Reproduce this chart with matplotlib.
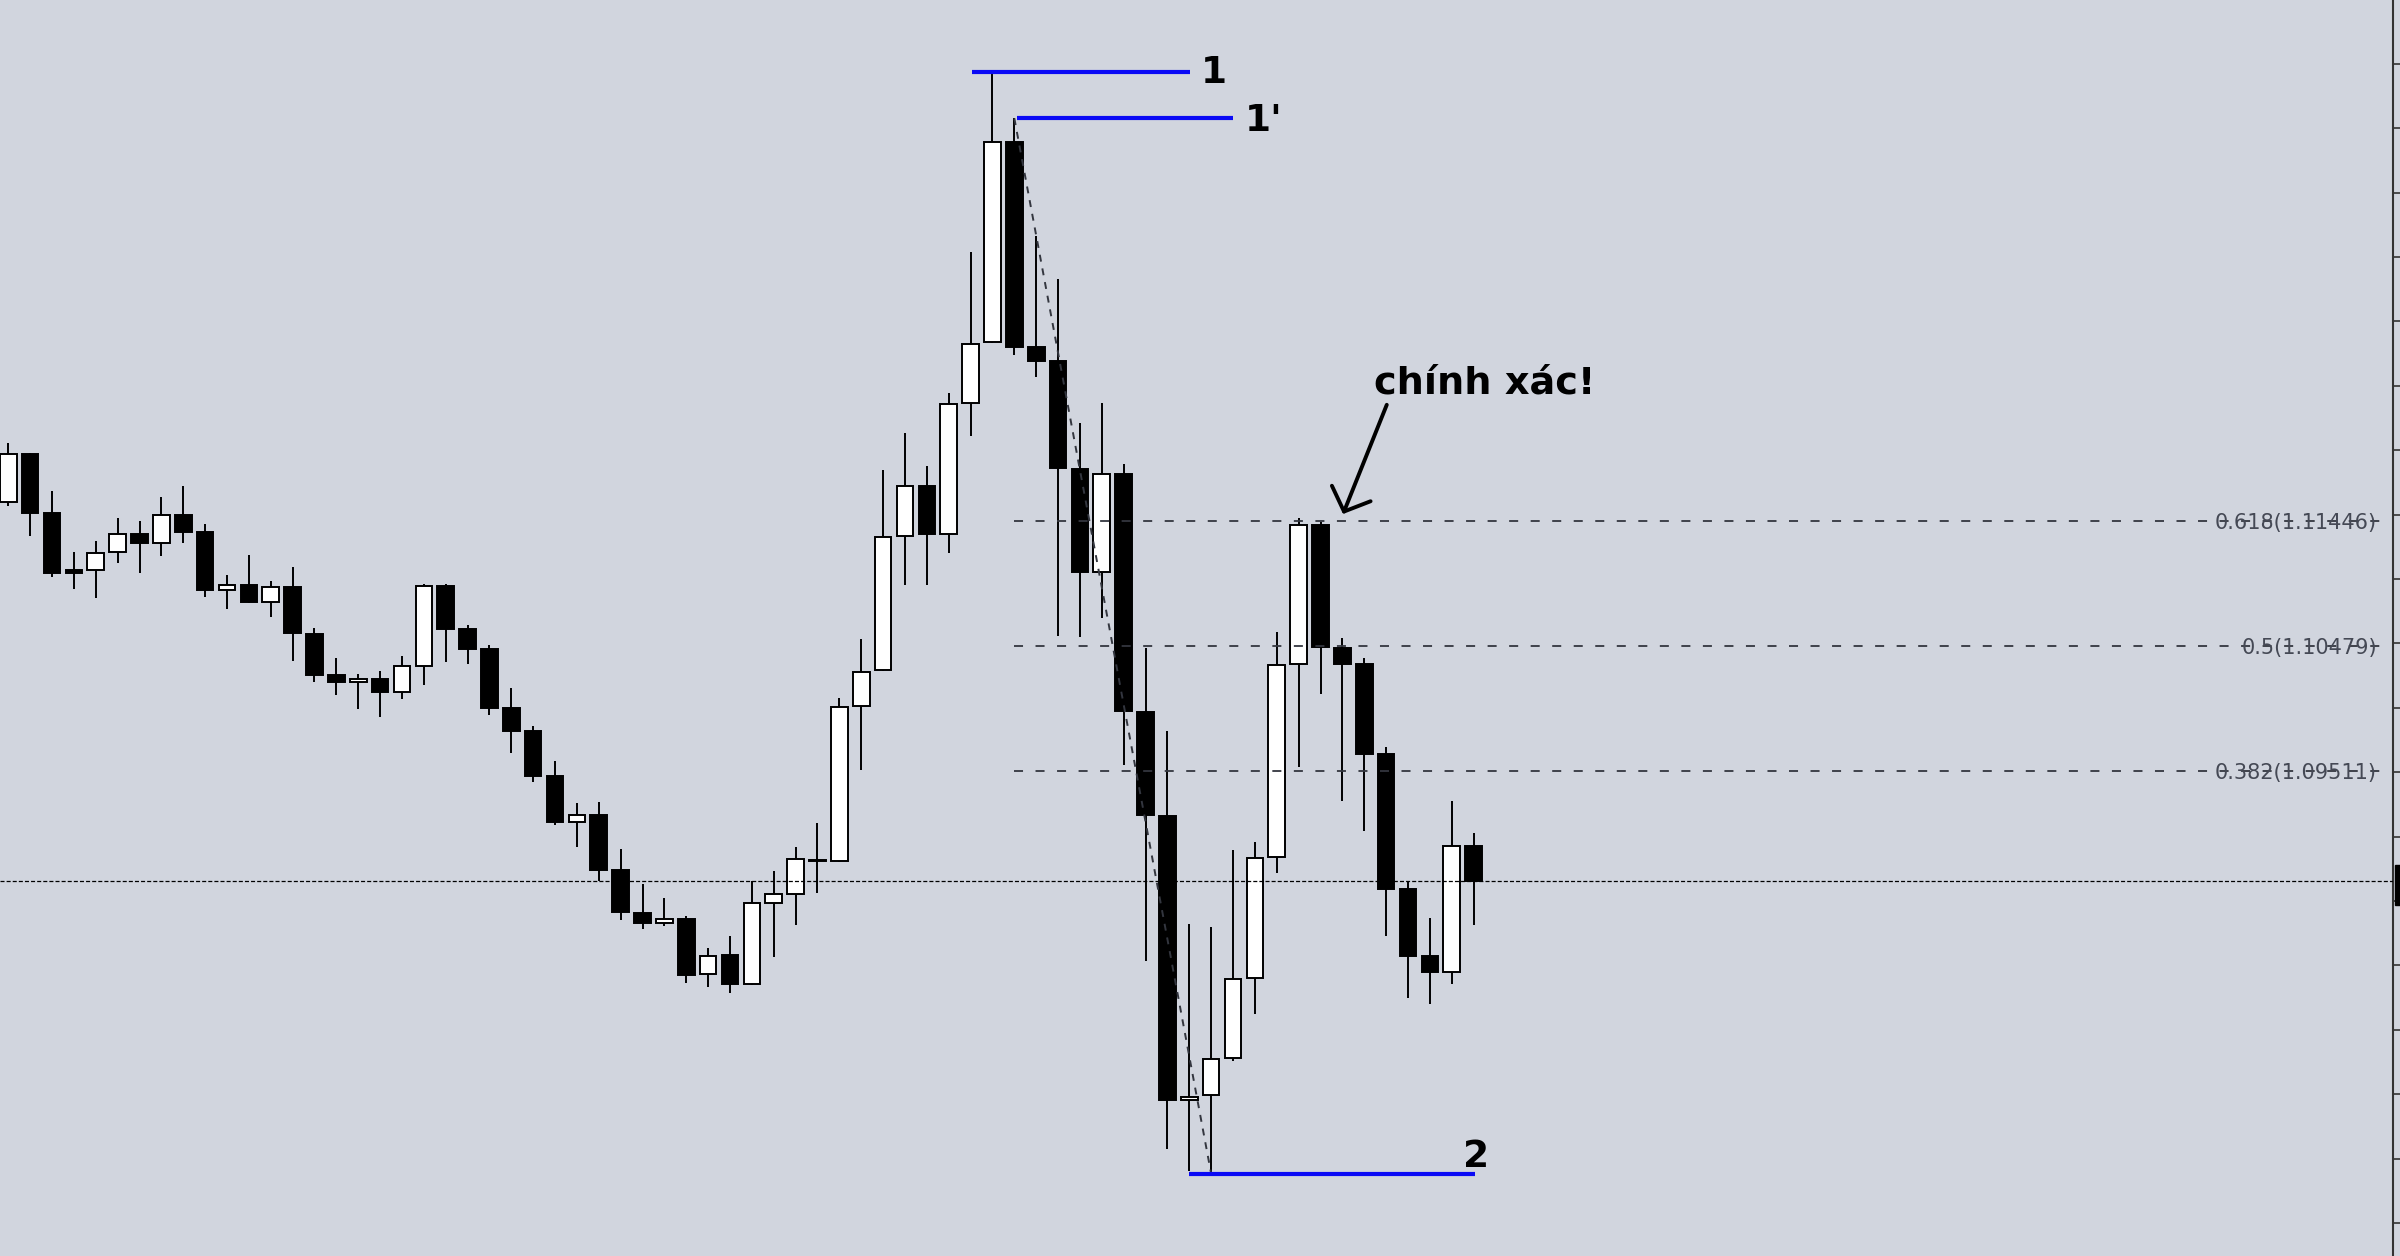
import numpy as np
import matplotlib
matplotlib.use('Agg')
import matplotlib.pyplot as plt
from matplotlib.patches import Rectangle

# OHLC, oldest -> newest
opens = [1.11597, 1.11972, 1.11509, 1.11067, 1.11069, 1.11206, 1.11346, 1.11276, 1.11498, 1.11362,
         1.10912, 1.10953, 1.10818, 1.10937, 1.10575, 1.10252, 1.10197, 1.10223, 1.10120, 1.10326,
         1.10947, 1.10611, 1.10453, 1.09995, 1.09821, 1.09470, 1.09115, 1.09165, 1.08740, 1.08406,
         1.08326, 1.08359, 1.07930, 1.08078, 1.07852, 1.08484, 1.08553, 1.08818, 1.08812, 1.10013,
         1.10290, 1.11333, 1.11718, 1.11350, 1.12366, 1.12838, 1.14391, 1.12800, 1.12689, 1.11853,
         1.11057, 1.11818, 1.09970, 1.09161, 1.06953, 1.06990, 1.07283, 1.07901, 1.08841, 1.10336,
         1.11416, 1.10467, 1.10336, 1.09640, 1.08590, 1.08071, 1.07946, 1.08929]
highs = [1.12057, 1.11975, 1.11685, 1.11206, 1.11297, 1.11470, 1.11450, 1.11634, 1.11724, 1.11426,
         1.11028, 1.11186, 1.10984, 1.11092, 1.10619, 1.10386, 1.10262, 1.10287, 1.10401, 1.10958,
         1.10963, 1.10642, 1.10484, 1.10151, 1.09860, 1.09586, 1.09258, 1.09266, 1.08901, 1.08629,
         1.08520, 1.08383, 1.08132, 1.08225, 1.08655, 1.08734, 1.08916, 1.09103, 1.10073, 1.10536,
         1.11846, 1.12134, 1.11874, 1.12446, 1.13538, 1.14935, 1.14577, 1.13666, 1.13326, 1.12210,
         1.12366, 1.11892, 1.10467, 1.09821, 1.08322, 1.08296, 1.08895, 1.08959, 1.10585, 1.11476,
         1.11439, 1.10543, 1.10385, 1.09693, 1.08654, 1.08371, 1.09275, 1.09030]
lows = [1.11568, 1.11333, 1.11012, 1.10922, 1.10854, 1.11126, 1.11043, 1.11180, 1.11281, 1.10862,
        1.10769, 1.10815, 1.10702, 1.10365, 1.10200, 1.10101, 1.09988, 1.09925, 1.10070, 1.10176,
        1.10357, 1.10337, 1.09941, 1.09651, 1.09423, 1.09089, 1.08921, 1.08657, 1.08352, 1.08284,
        1.08307, 1.07865, 1.07834, 1.07787, 1.07850, 1.08062, 1.08313, 1.08564, 1.08800, 1.09514,
        1.10285, 1.10956, 1.10956, 1.11198, 1.12109, 1.12835, 1.12741, 1.12568, 1.10557, 1.10553,
        1.10696, 1.09555, 1.08033, 1.06576, 1.06403, 1.06382, 1.07254, 1.07619, 1.08717, 1.09538,
        1.10106, 1.09275, 1.09041, 1.08228, 1.07743, 1.07702, 1.07855, 1.08315]
closes = [1.11972, 1.11509, 1.11046, 1.11046, 1.11203, 1.11349, 1.11276, 1.11498, 1.11364, 1.10912,
          1.10953, 1.10818, 1.10937, 1.10578, 1.10256, 1.10197, 1.10223, 1.10120, 1.10321, 1.10947,
          1.10613, 1.10453, 1.09998, 1.09821, 1.09472, 1.09115, 1.09165, 1.08742, 1.08411, 1.08326,
          1.08357, 1.07927, 1.08075, 1.07852, 1.08481, 1.08551, 1.08823, 1.08812, 1.10008, 1.10280,
          1.11326, 1.11718, 1.11350, 1.12356, 1.12827, 1.14391, 1.12803, 1.12689, 1.11861, 1.11057,
          1.11818, 1.09974, 1.09169, 1.06953, 1.06979, 1.07276, 1.07894, 1.08831, 1.10328, 1.11416,
          1.10471, 1.10339, 1.09640, 1.08590, 1.08071, 1.07946, 1.08929, 1.08654]

# fibo retracement 1' -> 2
fib_ratios = ['0.618', '0.5', '0.382']
fib_prices = [1.11446, 1.10479, 1.09511]
IDX_1, IDX_1B, IDX_2 = 45, 46, 55   # candles with swing points

BG = '#d1d5de'
BLUE = '#0a0af5'
FIB_COL = '#33363f'
W = 2400
AX_RIGHT = 2393

plt.rcParams['lines.scale_dashes'] = False

fig = plt.figure(figsize=(24, 12.56), dpi=100, facecolor=BG)
ax = fig.add_axes([0, 0, AX_RIGHT / W, 1])
ax.set_facecolor(BG)

o = np.array(opens)
h = np.array(highs)
l = np.array(lows)
c = np.array(closes)
x = np.arange(len(o))
up = c >= o

ax.vlines(x, l, h, color='black', lw=1.4, zorder=2)
body_lo = np.minimum(o, c)
body_h = np.maximum(np.abs(c - o), 0.00005)
ax.bar(x, body_h, bottom=body_lo, width=0.76, color=np.where(up, 'white', 'black'),
       edgecolor='black', linewidth=1.4, zorder=3)

x_end = 108.6
# fib levels
for r, p in zip(fib_ratios, fib_prices):
    ax.plot([IDX_1B, x_end], [p, p], color=FIB_COL, lw=1.3, dashes=(6.5, 9), zorder=4)
    ax.text(108.3, p, f'{r}({p:.5f})', ha='right', va='center_baseline', fontsize=15,
            color='#454955', zorder=5)

# fib base line
ax.plot([IDX_1B, IDX_2], [h[IDX_1B], l[IDX_2]], color=FIB_COL, lw=1.4, dashes=(5, 5), zorder=4)

# current price
ax.axhline(c[-1], color='black', lw=0.9, dashes=(2.9, 1.5), zorder=4)

# swing marks
ax.plot([44.05, 54.03], [h[IDX_1], h[IDX_1]], color=BLUE, lw=3, zorder=6, solid_capstyle='butt')
ax.plot([46.1, 56.0], [h[IDX_1B], h[IDX_1B]], color=BLUE, lw=3, zorder=6, solid_capstyle='butt')
ax.plot([54.0, 67.05], [l[IDX_2], l[IDX_2]], color=BLUE, lw=3, zorder=6, solid_capstyle='butt')
ax.text(54.55, 1.14848, '1', fontsize=27, fontweight='bold', va='baseline', ha='left')
ax.text(56.55, 1.14474, "1'", fontsize=27, fontweight='bold', va='baseline', ha='left')
ax.text(66.5, 1.06434, '2', fontsize=27, fontweight='bold', va='baseline', ha='left')

ax.text(62.45, 1.12438, 'chính xác!', fontsize=27.5, fontweight='bold', va='baseline', ha='left')
ax.annotate('', xy=(61.03, 1.11504), xytext=(63.03, 1.12352),
            arrowprops=dict(arrowstyle='->,head_length=0.7,head_width=0.75', lw=2.8,
                            color='black', mutation_scale=20, shrinkA=0, shrinkB=0))

ax.set_xlim(-0.38, 109.04)
ax.set_ylim(1.05743, 1.15495)
ax.set_yticks(np.arange(1.06, 1.1501, 0.005))
ax.set_xticks([])
ax.yaxis.tick_right()
ax.tick_params(axis='y', direction='out', length=6, width=1.2, color='#333333', labelright=False)
for s in ['left', 'top', 'bottom']:
    ax.spines[s].set_visible(False)
ax.spines['right'].set_color('#333333')
ax.spines['right'].set_linewidth(1.5)

# price tag stub at right edge
fig.patches.append(Rectangle((2395 / W, 1 - 905 / 1256), 5 / W, 40 / 1256,
                             transform=fig.transFigure, color='black', zorder=10))

fig.savefig('out.png', dpi=100, facecolor=BG)
